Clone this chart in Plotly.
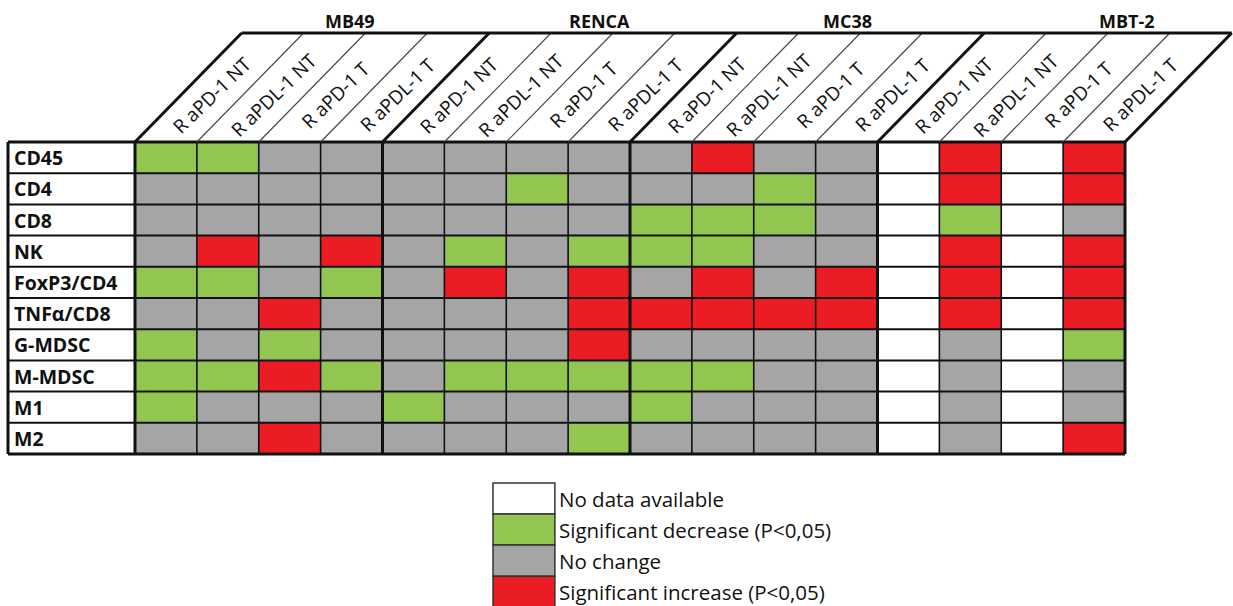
import plotly.graph_objects as go

# Tumour models and treatment arms (column order inside each model)
models = ["MB49", "RENCA", "MC38", "MBT-2"]
arms = ["R aPD-1 NT", "R aPDL-1 NT", "R aPD-1 T", "R aPDL-1 T"]

# Immune populations (rows, top to bottom)
markers = ["CD45", "CD4", "CD8", "NK", "FoxP3/CD4", "TNFα/CD8",
           "G-MDSC", "M-MDSC", "M1", "M2"]

# Status codes: "-" no data, "D" significant decrease, "N" no change, "I" significant increase
# Each row lists MB49 | RENCA | MC38 | MBT-2, four arms per model
cd45 = "DDNN NNNN NINN -I-I"
cd4 = "NNNN NNDN NNDN -I-I"
cd8 = "NNNN NNNN DDDN -D-N"
nk = "NINI NDND DDNN -I-I"
foxp3_cd4 = "DDND NINI NINI -I-I"
tnfa_cd8 = "NNIN NNNI IIII -I-I"
g_mdsc = "DNDN NNNI NNNN -N-D"
m_mdsc = "DDID NDDD DDNN -N-N"
m1 = "DNNN DNNN DNNN -N-N"
m2 = "NNIN NNND NNNN -N-I"

rows = [cd45, cd4, cd8, nk, foxp3_cd4, tnfa_cd8, g_mdsc, m_mdsc, m1, m2]

legend_labels = ["No data available", "Significant decrease (P<0,05)",
                 "No change", "Significant increase (P<0,05)"]
code_order = ["-", "D", "N", "I"]

WHITE, GREEN, GREY, RED = "#ffffff", "#92c650", "#a5a5a5", "#ec1c24"
colorscale = [[0.0, WHITE], [0.25, WHITE], [0.25, GREEN], [0.5, GREEN],
              [0.5, GREY], [0.75, GREY], [0.75, RED], [1.0, RED]]

n_cols = len(models) * len(arms)
columns = [a for _ in models for a in arms]
z = [[code_order.index(c) for c in r.replace(" ", "")] for r in rows]

fig = go.Figure()
fig.add_trace(go.Heatmap(
    z=z, x=list(range(n_cols)), y=list(range(len(markers))),
    colorscale=colorscale, zmin=-0.5, zmax=3.5, showscale=False,
    hoverinfo="skip",
))

# geometry in axis units
px_per_x = 61.875
px_per_y = 31.2
label_left = -0.5 - 127 / px_per_x
slant_dx = 106.7 / px_per_x
head_top = -0.5 - 109 / px_per_y
top_row, bottom_row = -0.5, len(markers) - 0.5
right_edge = n_cols - 0.5

shapes = []


def line(x0, y0, x1, y1, w, color="#111111"):
    shapes.append(dict(type="line", x0=x0, y0=y0, x1=x1, y1=y1, xref="x", yref="y",
                       line=dict(color=color, width=w), layer="above"))


# horizontal row separators (label column + cells)
for i in range(len(markers) + 1):
    y = i - 0.5
    w = 3 if i in (0, len(markers)) else 2
    line(label_left, y, right_edge, y, w)

# vertical column separators and slanted header lines
group_edges = {g * len(arms) for g in range(len(models) + 1)}
for j in range(n_cols + 1):
    x = j - 0.5
    thick = j in group_edges
    line(x, top_row, x, bottom_row, 3 if thick else 1.6)
    line(x, top_row, x + slant_dx, head_top, 3 if thick else 1.1,
         "#111111" if thick else "#444444")

# label column left border and header top edge
line(label_left, top_row, label_left, bottom_row, 3)
line(-0.5 + slant_dx, head_top, right_edge + slant_dx, head_top, 3)

annotations = []
FONT = "'Open Sans', Lato, sans-serif"

# row labels
for i, m in enumerate(markers):
    annotations.append(dict(x=label_left + 0.06, y=i, xref="x", yref="y", text=f"<b>{m}</b>",
                            showarrow=False, xanchor="left", yanchor="middle",
                            font=dict(family=FONT, size=19.5, color="#111111")))

# rotated arm labels inside the slanted header
text_y = -0.5 - 47 / px_per_y
text_shift = (47 * 106.7 / 109) / px_per_x
for j, c in enumerate(columns):
    annotations.append(dict(x=j + text_shift, y=text_y, xref="x", yref="y", text=c,
                            showarrow=False, textangle=-44, xanchor="center", yanchor="middle",
                            font=dict(family=FONT, size=19, color="#111111")))

# model names above the header
model_px = [350, 599, 847, 1127]
for name, px in zip(models, model_px):
    annotations.append(dict(x=-0.5 + (px - 135) / px_per_x, y=-0.5 - 121 / px_per_y,
                            xref="x", yref="y", text=f"<b>{name}</b>", showarrow=False,
                            xanchor="center", yanchor="middle",
                            font=dict(family=FONT, size=18, color="#111111")))

# legend swatches
leg_x0 = -0.5 + (493 - 135) / px_per_x
leg_x1 = leg_x0 + 1.0
leg_y0 = -0.5 + (483 - 142) / px_per_y
for k, (lab, col) in enumerate(zip(legend_labels, [WHITE, GREEN, GREY, RED])):
    y0 = leg_y0 + k * 0.995
    shapes.append(dict(type="rect", x0=leg_x0, x1=leg_x1, y0=y0, y1=y0 + 0.995,
                       xref="x", yref="y", fillcolor=col,
                       line=dict(color="#333333", width=1.5), layer="above"))
    annotations.append(dict(x=leg_x1 + 0.04, y=y0 + 0.5, xref="x", yref="y", text=lab,
                            showarrow=False, xanchor="left", yanchor="middle",
                            font=dict(family=FONT, size=20.5, color="#111111")))

fig.update_layout(
    width=1233, height=606, margin=dict(l=0, r=0, t=0, b=0),
    paper_bgcolor="white", plot_bgcolor="white",
    xaxis=dict(range=[-0.5 - 135 / px_per_x, -0.5 + (1233 - 135) / px_per_x],
               visible=False, fixedrange=True),
    yaxis=dict(range=[-0.5 + (606 - 142) / px_per_y, -0.5 - 142 / px_per_y],
               visible=False, fixedrange=True),
    shapes=shapes, annotations=annotations, showlegend=False,
)

fig.write_html("out.html")
